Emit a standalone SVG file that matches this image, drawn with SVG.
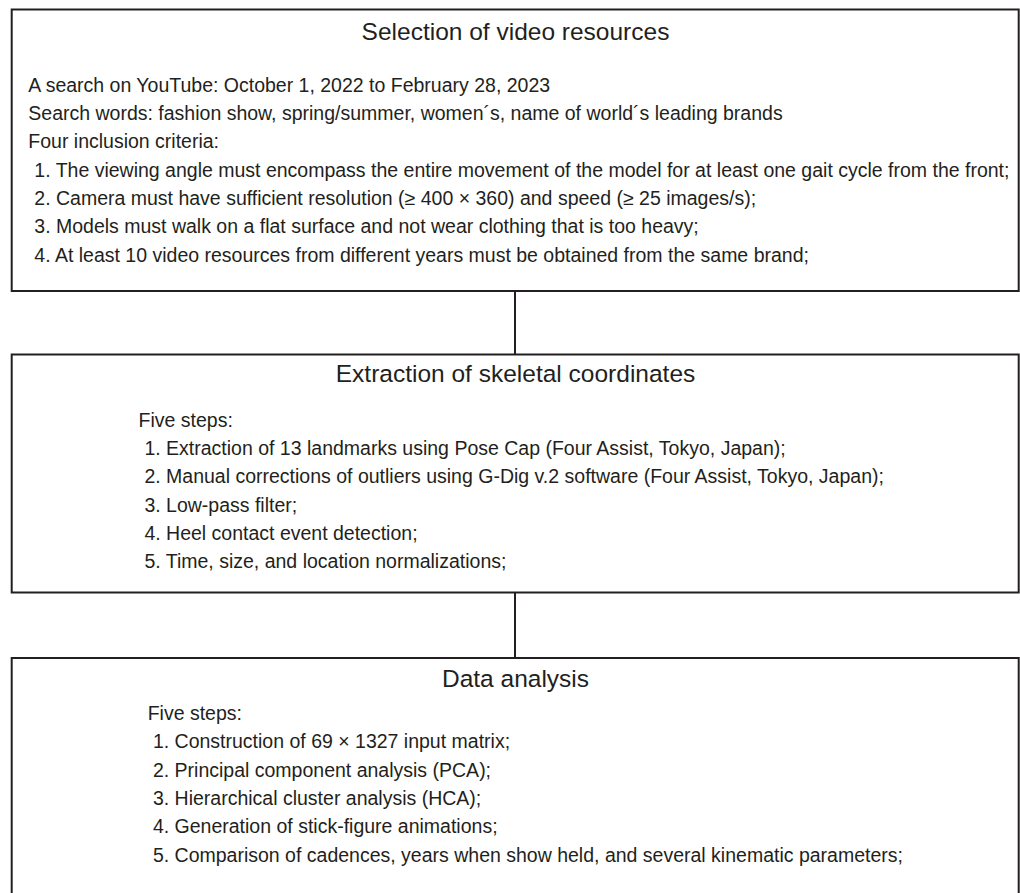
<svg xmlns="http://www.w3.org/2000/svg" width="1020" height="893" viewBox="0 0 1020 893">
<style>
.box{fill:none;stroke:#231f20;stroke-width:2}
.conn{stroke:#231f20;stroke-width:2;fill:none}
.t{font-family:"Liberation Sans",Arial,sans-serif;font-size:24.5px;fill:#231f20;text-anchor:middle}
.b{font-family:"Liberation Sans",Arial,sans-serif;font-size:19.5px;fill:#231f20}
</style>
<rect width="1020" height="893" fill="#ffffff"/>
<g id="connectors">
<line class="conn" x1="515" y1="291" x2="515" y2="354"/>
<line class="conn" x1="515" y1="593" x2="515" y2="658"/>
</g>
<g id="node-selection">
<rect class="box" x="11.7" y="9.5" width="1007" height="281.5"/>
<text class="t" x="515.5" y="40">Selection of video resources</text>
<text class="b" x="28.3" y="91.7">A search on YouTube: October 1, 2022 to February 28, 2023</text>
<text class="b" x="28.3" y="120">Search words: fashion show, spring/summer, women´s, name of world´s leading brands</text>
<text class="b" x="28.3" y="148.3">Four inclusion criteria:</text>
<text class="b" x="34.3" y="176.7">1. The viewing angle must encompass the entire movement of the model for at least one gait cycle from the front;</text>
<text class="b" x="34.3" y="205">2. Camera must have sufficient resolution (≥ 400 × 360) and speed (≥ 25 images/s);</text>
<text class="b" x="34.3" y="233.3">3. Models must walk on a flat surface and not wear clothing that is too heavy;</text>
<text class="b" x="34.3" y="262">4. At least 10 video resources from different years must be obtained from the same brand;</text>
</g>
<g id="node-extraction">
<rect class="box" x="11.7" y="354.5" width="1007" height="238"/>
<text class="t" x="515.5" y="381.7">Extraction of skeletal coordinates</text>
<text class="b" x="138.6" y="426.7">Five steps:</text>
<text class="b" x="144.4" y="455">1. Extraction of 13 landmarks using Pose Cap (Four Assist, Tokyo, Japan);</text>
<text class="b" x="144.4" y="483.3">2. Manual corrections of outliers using G-Dig v.2 software (Four Assist, Tokyo, Japan);</text>
<text class="b" x="144.4" y="511.7">3. Low-pass filter;</text>
<text class="b" x="144.4" y="540">4. Heel contact event detection;</text>
<text class="b" x="144.4" y="568.3">5. Time, size, and location normalizations;</text>
</g>
<g id="node-analysis">
<rect class="box" x="11.7" y="658" width="1007" height="260"/>
<text class="t" x="515.5" y="687.3">Data analysis</text>
<text class="b" x="147.7" y="720">Five steps:</text>
<text class="b" x="152.9" y="748.3">1. Construction of 69 × 1327 input matrix;</text>
<text class="b" x="152.9" y="776.7">2. Principal component analysis (PCA);</text>
<text class="b" x="152.9" y="805">3. Hierarchical cluster analysis (HCA);</text>
<text class="b" x="152.9" y="833.3">4. Generation of stick-figure animations;</text>
<text class="b" x="152.9" y="861.7">5. Comparison of cadences, years when show held, and several kinematic parameters;</text>
</g>
</svg>
